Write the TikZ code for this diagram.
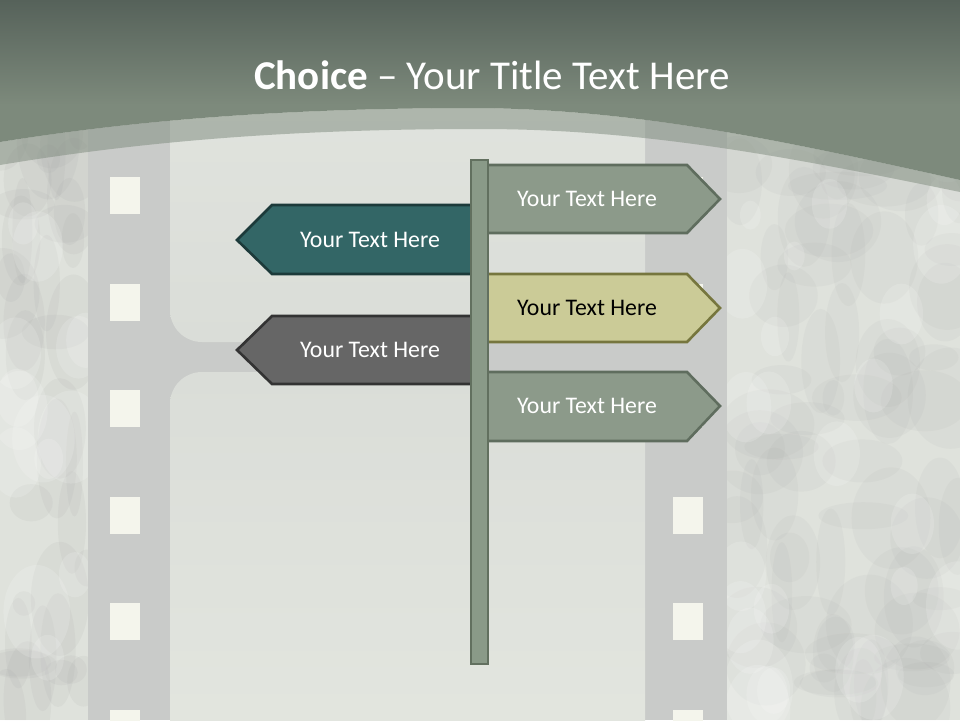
\documentclass[tikz,border=0pt]{standalone}
\usepackage{fontspec}
\setmainfont{Carlito}
\definecolor{bgtex}{HTML}{DFE2DC}
\definecolor{stripcol}{HTML}{C9CBC9}
\definecolor{holecol}{HTML}{F4F5EC}
\definecolor{frametop}{HTML}{E4E7E1}
\definecolor{framemid}{HTML}{DADDD8}
\definecolor{framebot}{HTML}{E4E7E0}
\definecolor{hdrtop}{HTML}{56625A}
\definecolor{hdrbot}{HTML}{7D8A7C}
\definecolor{polefill}{HTML}{8A9A88}
\definecolor{poleline}{HTML}{62705F}
\definecolor{sagefill}{HTML}{8C9A8A}
\definecolor{sageline}{HTML}{5F6D5E}
\definecolor{yelfill}{HTML}{CBCB97}
\definecolor{yelline}{HTML}{76763E}
\definecolor{tealfill}{HTML}{336666}
\definecolor{tealline}{HTML}{1C3A3A}
\definecolor{greyfill}{HTML}{666666}
\definecolor{greyline}{HTML}{333333}
\tikzset{
  signbox/.style={line width=2.6pt, line join=miter},
  signtext/.style={font=\fontsize{23.8}{27}\selectfont, inner sep=0pt, anchor=center},
  holebox/.style={fill=holecol},
}
\begin{document}
\begin{tikzpicture}[x=1pt,y=-1pt]
\useasboundingbox (0,0) rectangle (960,720);
% base texture
\fill[bgtex] (0,0) rectangle (960,720);
\begin{scope}
  \clip (0,0) rectangle (170,720) (645,0) rectangle (960,720);
  \pgfmathsetseed{17}
  \foreach \i in {1,...,40} {
    \pgfmathsetmacro\xx{rnd*88}
    \pgfmathsetmacro\yy{120+rnd*600}
    \pgfmathsetmacro\ra{8+rnd*30}
    \pgfmathsetmacro\rb{10+rnd*50}
    \fill[gray!75, opacity=0.10] (\xx,\yy) ellipse ({\ra} and {\rb});
  }
  \foreach \i in {1,...,80} {
    \pgfmathsetmacro\xx{727+rnd*233}
    \pgfmathsetmacro\yy{140+rnd*580}
    \pgfmathsetmacro\ra{10+rnd*40}
    \pgfmathsetmacro\rb{10+rnd*45}
    \fill[gray!75, opacity=0.08] (\xx,\yy) ellipse ({\ra} and {\rb});
  }
  \foreach \i in {1,...,40} {
    \pgfmathsetmacro\xx{rnd<0.3 ? rnd*88 : 727+rnd*233}
    \pgfmathsetmacro\yy{140+rnd*580}
    \pgfmathsetmacro\ra{10+rnd*25}
    \fill[white, opacity=0.15] (\xx,\yy) ellipse ({\ra} and {\ra*1.4});
  }
\end{scope}
% film strips
\fill[stripcol] (88,0) rectangle (170,720);
\fill[stripcol] (645,0) rectangle (727,720);
\fill[stripcol] (170,0) rectangle (645,720);
\foreach \y in {70,177,284,390,497,603,710} {
  \fill[holebox] (110,\y) rectangle ++(30,37);
  \fill[holebox] (673,\y) rectangle ++(30,37);
}
% frames
\shade[top color=frametop, bottom color=framemid, rounded corners=32]
  (170,-60) rectangle (645,342);
\shade[top color=framemid, bottom color=framebot, rounded corners=32]
  (170,372) rectangle (645,800);
% header
\fill[hdrbot]
  (0,0) -- (960,0) -- (960,180)
  .. controls (780,140) and (640,110) .. (480,108)
  .. controls (300,108) and (150,118) .. (0,142) -- cycle;
\shade[top color=hdrtop, bottom color=hdrbot] (0,0) rectangle (960,105);
% translucent band below header
\fill[hdrbot, opacity=0.5]
  (0,142) .. controls (150,118) and (300,108) .. (480,108)
  .. controls (640,110) and (780,140) .. (960,180)
  -- (960,192)
  .. controls (780,155) and (640,129) .. (480,129)
  .. controls (300,129) and (150,140) .. (0,165) -- cycle;
% title
\node[text=white, font=\fontsize{41}{46}\selectfont, inner sep=0pt] (title) at (492,75)
  {\textbf{Choice} -- Your Title Text Here};
% left signs
\draw[signbox, fill=tealfill, draw=tealline]
  (472,205) -- (272,205) -- (237,240) -- (272,274) -- (472,274) -- cycle;
\draw[signbox, fill=greyfill, draw=greyline]
  (472,316) -- (272,316) -- (237,350) -- (272,384) -- (472,384) -- cycle;
% right signs
\draw[signbox, fill=sagefill, draw=sageline]
  (486,165) -- (687,165) -- (720,199) -- (687,233) -- (486,233) -- cycle;
\draw[signbox, fill=yelfill, draw=yelline]
  (486,274) -- (687,274) -- (720,308) -- (687,342) -- (486,342) -- cycle;
\draw[signbox, fill=sagefill, draw=sageline]
  (486,372) -- (687,372) -- (720,406) -- (687,441) -- (486,441) -- cycle;
% pole
\draw[fill=polefill, draw=poleline, line width=2pt] (471,160) rectangle (488,664);
% sign texts
\node[signtext, text=white] (l1) at (370,240) {Your Text Here};
\node[signtext, text=white] (l2) at (370,350) {Your Text Here};
\node[signtext, text=white] (r1) at (587,199) {Your Text Here};
\node[signtext, text=black] (r2) at (587,308) {Your Text Here};
\node[signtext, text=white] (r3) at (587,406) {Your Text Here};
\end{tikzpicture}
\end{document}
